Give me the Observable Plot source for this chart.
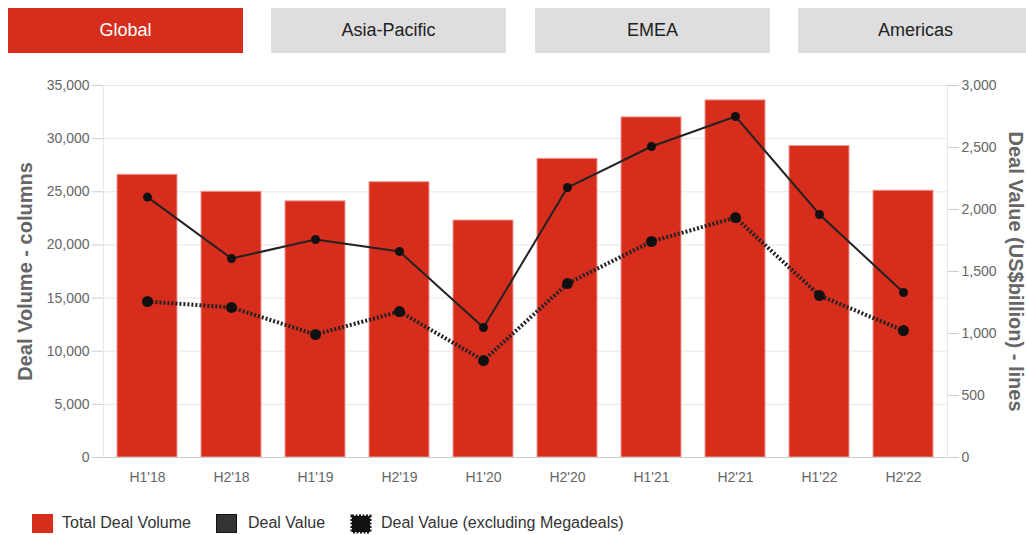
<!DOCTYPE html>
<html><head><meta charset="utf-8">
<script src="https://cdn.jsdelivr.net/npm/d3@7"></script>
<script src="https://cdn.jsdelivr.net/npm/@observablehq/plot@0.6"></script>
<style>
body{margin:0;background:#fff;font-family:"Liberation Sans",Arial,sans-serif;width:1026px;height:535px;overflow:hidden;position:relative;}
.tab{position:absolute;top:8px;height:45px;width:235px;line-height:45px;text-align:center;font-size:18px;background:#dedede;color:#222;}
.tab.active{background:#d62d1c;color:#fff;}
#chart{position:absolute;left:0;top:60px;}
.leg{position:absolute;top:512px;height:22px;line-height:22px;font-size:16px;color:#333;white-space:nowrap;}
.sw{position:absolute;top:2px;width:21px;height:19px;}
</style>
</head><body>
<div id="tabs"></div>
<div id="chart"></div>
<div id="legend"></div>
<script>
const categories = ["H1'18","H2'18","H1'19","H2'19","H1'20","H2'20","H1'21","H2'21","H1'22","H2'22"];
const dealVolume = [26600,25000,24100,25900,22300,28100,32000,33600,29300,25100];
const dealValue = [2100,1605,1758,1661,1048,2177,2508,2750,1960,1331];
const dealValueExMega = [1258,1210,992,1177,782,1403,1742,1935,1306,1024];
const leftTicks = [0,5000,10000,15000,20000,25000,30000,35000];
const rightTicks = [0,500,1000,1500,2000,2500,3000];
const tabs = ["Global","Asia-Pacific","EMEA","Americas"];
const legendItems = ["Total Deal Volume","Deal Value","Deal Value (excluding Megadeals)"];
const leftTitle = "Deal Volume - columns";
const rightTitle = "Deal Value (US$billion) - lines";

const RED = "#d62d1c";
const leftMax = 35000, rightMax = 3000;
const k = leftMax / rightMax;

// tabs
const tabX = [8, 271, 535, 798];
const tabsDiv = document.getElementById("tabs");
tabs.forEach((t, i) => {
  const d = document.createElement("div");
  d.className = "tab" + (i === 0 ? " active" : "");
  d.style.left = tabX[i] + "px";
  d.textContent = t;
  tabsDiv.appendChild(d);
});

const rows = categories.map((c, i) => ({cat: c, vol: dealVolume[i], val: dealValue[i] * k, ex: dealValueExMega[i] * k}));
const fmt = d3.format(",");

const chart = Plot.plot({
  width: 1026, height: 445,
  marginLeft: 103, marginRight: 79, marginTop: 25, marginBottom: 48,
  style: {fontFamily: "'Liberation Sans', Arial, sans-serif", fontSize: "14px", background: "transparent"},
  x: {domain: categories, paddingInner: 0.29, paddingOuter: 0.145, axis: null},
  y: {domain: [0, leftMax], axis: null},
  marks: [
    Plot.gridY(leftTicks, {stroke: "#e6e6e6", strokeOpacity: 1}),
    Plot.frame({stroke: "#e6e6e6"}),
    Plot.barY(rows, {x: "cat", y: "vol", fill: RED, stroke: "#ee9a92", strokeWidth: 1}),
    Plot.line(rows, {x: "cat", y: "val", stroke: "#222", strokeWidth: 2}),
    Plot.dot(rows, {x: "cat", y: "val", r: 4.5, fill: "#111"}),
    Plot.line(rows, {x: "cat", y: "ex", stroke: "#222", strokeWidth: 4, strokeDasharray: "2,2", strokeLinecap: "butt", strokeLinejoin: "miter"}),
    Plot.dot(rows, {x: "cat", y: "ex", r: 5.5, fill: "#111"}),
    Plot.ruleY([0], {stroke: "#ccc"}),
    Plot.axisY(leftTicks, {anchor: "left", tickFormat: fmt, tickSize: 11, tickPadding: 3, stroke: "#ccc", fill: "#666", label: null, fontSize: 14}),
    Plot.axisY(rightTicks.map(v => v * k), {anchor: "right", tickFormat: d => fmt(Math.round(d / k)), tickSize: 11, tickPadding: 3, stroke: "#ccc", fill: "#666", label: null, fontSize: 14}),
    Plot.axisX({tickSize: 0, tickPadding: 15, fill: "#666", label: null, fontSize: 14}),
    Plot.text([leftTitle], {frameAnchor: "left", textAnchor: "middle", lineAnchor: "middle", dx: -78, rotate: -90, fontSize: 20, fontWeight: "bold", fill: "#666"}),
    Plot.text([rightTitle], {frameAnchor: "right", textAnchor: "middle", lineAnchor: "middle", dx: 68, rotate: 90, fontSize: 20, fontWeight: "bold", fill: "#666"})
  ]
});
document.getElementById("chart").appendChild(chart);

// legend
const legend = document.getElementById("legend");
const swX = [32, 216, 350];
const txX = [62, 248, 381];
legendItems.forEach((t, i) => {
  const sw = document.createElement("div");
  sw.className = "leg";
  sw.style.left = swX[i] + "px";
  sw.style.width = "22px";
  if (i === 0) sw.innerHTML = `<div class="sw" style="background:${RED}"></div>`;
  else if (i === 1) sw.innerHTML = `<div class="sw" style="background:#333;border:1px solid #111;box-sizing:border-box"></div>`;
  else sw.innerHTML = `<svg width="24" height="24" style="position:absolute;top:0;left:-1px"><rect x="3" y="4" width="18" height="16" fill="#111" stroke="#111" stroke-width="3" stroke-dasharray="2,1.5"/></svg>`;
  legend.appendChild(sw);
  const tx = document.createElement("div");
  tx.className = "leg";
  tx.style.left = txX[i] + "px";
  tx.textContent = t;
  legend.appendChild(tx);
});
</script>
</body></html>
